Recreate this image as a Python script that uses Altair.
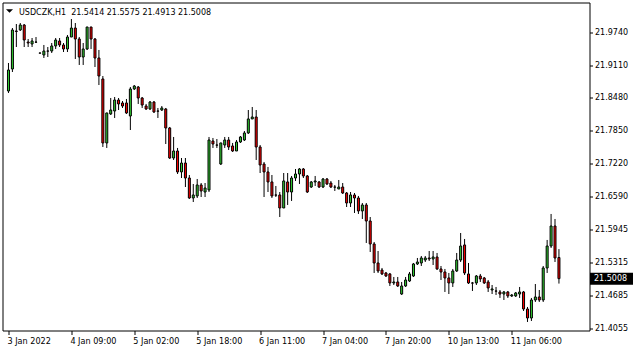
import altair as alt
import pandas as pd

# ---- data (USDCZK, H1) ----
opens = [21.8612, 21.9035, 21.9765, 21.9784, 21.9880, 21.9553, 21.9515, 21.9553, 21.9342, 21.9304,
         21.9380, 21.9380, 21.9477, 21.9573, 21.9496, 21.9419, 21.9649, 21.9822, 21.9611, 21.9265,
         21.9419, 21.9841, 21.9611, 21.9246, 21.8843, 21.7614, 21.8171, 21.8228, 21.8439, 21.8382,
         21.8382, 21.8132, 21.8651, 21.8689, 21.8478, 21.8324, 21.8267, 21.8401, 21.8228, 21.8247,
         21.8267, 21.7902, 21.7325, 21.7460, 21.7057, 21.7229, 21.6941, 21.6557, 21.6596, 21.6807,
         21.6672, 21.6711, 21.7652, 21.7575, 21.7210, 21.7575, 21.7671, 21.7556, 21.7460, 21.7633,
         21.7671, 21.7806, 21.8075, 21.8113, 21.7537, 21.7210, 21.7057, 21.6865, 21.6615, 21.6615,
         21.6365, 21.6865, 21.6672, 21.6941, 21.7018, 21.7114, 21.6980, 21.6768, 21.6865, 21.6865,
         21.6768, 21.6922, 21.6845, 21.6768, 21.6730, 21.6768, 21.6653, 21.6461, 21.6615, 21.6557,
         21.6308, 21.6423, 21.6115, 21.5674, 21.5309, 21.5174, 21.5117, 21.5098, 21.4925, 21.4944,
         21.4713, 21.4867, 21.4963, 21.5059, 21.5290, 21.5309, 21.5366, 21.5405, 21.5386, 21.5424,
         21.5194, 21.5136, 21.5021, 21.4925, 21.5155, 21.5366, 21.5655, 21.5098, 21.4925, 21.4925,
         21.5059, 21.5021, 21.4944, 21.4790, 21.4771, 21.4752, 21.4713, 21.4752, 21.4675, 21.4675,
         21.4713, 21.4752, 21.4425, 21.4252, 21.4598, 21.4656, 21.4598, 21.5213, 21.5635, 21.6019,
         21.5414]
highs = [21.9150, 21.9822, 21.9899, 21.9918, 21.9899, 21.9611, 21.9630, 21.9649, 21.9345, 21.9496,
         21.9457, 21.9534, 21.9630, 21.9630, 21.9534, 21.9688, 21.9995, 21.9918, 21.9649, 21.9534,
         21.9845, 21.9845, 21.9630, 21.9400, 21.8900, 21.8195, 21.8478, 21.8497, 21.8478, 21.8420,
         21.8459, 21.8689, 21.8727, 21.8708, 21.8497, 21.8363, 21.8420, 21.8420, 21.8286, 21.8324,
         21.8286, 21.7921, 21.7729, 21.7518, 21.7325, 21.7325, 21.6999, 21.6826, 21.6922, 21.6845,
         21.6845, 21.7729, 21.7710, 21.7690, 21.7618, 21.7729, 21.7729, 21.7614, 21.7671, 21.7748,
         21.7844, 21.8247, 21.8305, 21.8247, 21.7575, 21.7249, 21.7153, 21.6999, 21.6788, 21.6672,
         21.7037, 21.7037, 21.6980, 21.7114, 21.7133, 21.7133, 21.6999, 21.6884, 21.6980, 21.6884,
         21.6941, 21.6941, 21.6884, 21.6807, 21.6903, 21.6845, 21.6672, 21.6672, 21.6653, 21.6596,
         21.6461, 21.6461, 21.6192, 21.5712, 21.5539, 21.5213, 21.5136, 21.5117, 21.5040, 21.5040,
         21.4944, 21.5040, 21.5136, 21.5309, 21.5405, 21.5443, 21.5443, 21.5539, 21.5539, 21.5501,
         21.5251, 21.5194, 21.5117, 21.5194, 21.5501, 21.5885, 21.5770, 21.5309, 21.4944, 21.5078,
         21.5098, 21.5040, 21.4982, 21.4886, 21.4848, 21.4790, 21.4771, 21.4771, 21.4713, 21.4752,
         21.4848, 21.4771, 21.4464, 21.4637, 21.4905, 21.4790, 21.5251, 21.5751, 21.6250, 21.6154,
         21.5575]
lows = [21.8574, 21.8977, 21.9457, 21.9765, 21.9457, 21.9457, 21.9457, 21.9534, 21.9338, 21.9246,
        21.9265, 21.9342, 21.9419, 21.9457, 21.9361, 21.9361, 21.9649, 21.9227, 21.9112, 21.9112,
        21.9400, 21.9419, 21.9073, 21.8727, 21.7537, 21.7518, 21.8151, 21.8094, 21.8247, 21.8286,
        21.8171, 21.7863, 21.8631, 21.8363, 21.8286, 21.8247, 21.8247, 21.8190, 21.8094, 21.8228,
        21.7594, 21.7306, 21.7287, 21.7018, 21.6941, 21.6768, 21.6538, 21.6480, 21.6557, 21.6576,
        21.6576, 21.6672, 21.7518, 21.7518, 21.7191, 21.7518, 21.7479, 21.7441, 21.7460, 21.7614,
        21.7652, 21.7786, 21.8075, 21.7287, 21.7037, 21.6576, 21.6672, 21.6557, 21.6576, 21.6192,
        21.6365, 21.6423, 21.6500, 21.6884, 21.6826, 21.6941, 21.6653, 21.6749, 21.6788, 21.6749,
        21.6749, 21.6807, 21.6749, 21.6692, 21.6730, 21.6634, 21.6384, 21.6384, 21.6269, 21.6250,
        21.6154, 21.5693, 21.5520, 21.5117, 21.5117, 21.5078, 21.5040, 21.4867, 21.4886, 21.4848,
        21.4694, 21.4848, 21.4944, 21.5040, 21.5270, 21.5251, 21.5328, 21.5347, 21.5270, 21.5174,
        21.4982, 21.4752, 21.4713, 21.4848, 21.5136, 21.5328, 21.5078, 21.4905, 21.4771, 21.4886,
        21.4944, 21.4905, 21.4752, 21.4713, 21.4694, 21.4637, 21.4598, 21.4637, 21.4656, 21.4656,
        21.4637, 21.4387, 21.4176, 21.4195, 21.4560, 21.4560, 21.4560, 21.5117, 21.5597, 21.5328,
        21.4913]
closes = [21.9016, 21.9784, 21.9755, 21.9880, 21.9592, 21.9534, 21.9573, 21.9550, 21.9340, 21.9380,
          21.9378, 21.9477, 21.9592, 21.9496, 21.9419, 21.9649, 21.9822, 21.9611, 21.9265, 21.9419,
          21.9841, 21.9611, 21.9246, 21.8900, 21.7614, 21.8190, 21.8247, 21.8439, 21.8363, 21.8324,
          21.8190, 21.8651, 21.8708, 21.8478, 21.8343, 21.8267, 21.8401, 21.8209, 21.8225, 21.8286,
          21.7902, 21.7325, 21.7460, 21.7057, 21.7229, 21.6941, 21.6557, 21.6615, 21.6807, 21.6692,
          21.6749, 21.7671, 21.7594, 21.7572, 21.7614, 21.7671, 21.7537, 21.7460, 21.7633, 21.7729,
          21.7806, 21.8075, 21.8113, 21.7537, 21.7191, 21.7057, 21.6865, 21.6596, 21.6612, 21.6365,
          21.6884, 21.6672, 21.6941, 21.7018, 21.7114, 21.6980, 21.6672, 21.6865, 21.6884, 21.6768,
          21.6922, 21.6826, 21.6768, 21.6765, 21.6768, 21.6653, 21.6461, 21.6615, 21.6557, 21.6308,
          21.6423, 21.6115, 21.5674, 21.5309, 21.5155, 21.5098, 21.5059, 21.4925, 21.4944, 21.4867,
          21.4867, 21.4982, 21.5098, 21.5290, 21.5328, 21.5405, 21.5405, 21.5386, 21.5424, 21.5194,
          21.5136, 21.5021, 21.4925, 21.5155, 21.5366, 21.5635, 21.5117, 21.4925, 21.4922, 21.5059,
          21.5002, 21.4925, 21.4829, 21.4810, 21.4768, 21.4713, 21.4752, 21.4675, 21.4694, 21.4733,
          21.4752, 21.4425, 21.4252, 21.4598, 21.4656, 21.4598, 21.5213, 21.5635, 21.6019, 21.5405,
          21.5008]

x_tick_bars = [0, 16, 32, 48, 64, 80, 96, 112, 128]
x_tick_labels = ["3 Jan 2022", "4 Jan 09:00", "5 Jan 02:00", "5 Jan 18:00", "6 Jan 11:00",
                 "7 Jan 04:00", "7 Jan 20:00", "10 Jan 13:00", "11 Jan 06:00"]
y_ticks = [21.9740, 21.9110, 21.8480, 21.7850, 21.7220, 21.6590, 21.5945, 21.5315, 21.4685, 21.4055]
symbol = "USDCZK,H1"

GREEN = "#32CD32"
RED = "#FF0000"
FONT = "DejaVu Sans"

df = pd.DataFrame({
    "bar": list(range(len(opens))),
    "open": opens, "high": highs, "low": lows, "close": closes,
})
df["dir"] = ["up" if c >= o else "down" for o, c in zip(opens, closes)]

x_scale = alt.Scale(domain=[-0.25, 146.5], nice=False, zero=False)
y_scale = alt.Scale(domain=[21.4012, 22.0312], nice=False, zero=False)

label_expr = ""
for b, t in zip(x_tick_bars, x_tick_labels):
    label_expr += f"datum.value == {b} ? '{t}' : "
label_expr += "''"

x_axis = alt.Axis(values=x_tick_bars, labelExpr=label_expr, orient="bottom", grid=False,
                  domain=False, tickSize=4, tickColor="black", tickWidth=1,
                  labelAlign="left", labelBaseline="top", labelPadding=2.5, labelOffset=-1.5,
                  labelColor="black", labelFont=FONT, labelFontSize=8.1,
                  labelOverlap=False, labelFlush=False, title=None)
y_axis = alt.Axis(values=y_ticks, format=".4f", orient="right", grid=False, domain=False,
                  tickSize=3, tickColor="black", tickWidth=1,
                  labelAlign="left", labelBaseline="middle", labelPadding=2,
                  labelColor="black", labelFont=FONT, labelFontSize=8,
                  labelOverlap=False, labelFlush=False, title=None)

base = alt.Chart(df)
wicks = base.mark_rule(color="black", strokeWidth=1).encode(
    x=alt.X("bar:Q", scale=x_scale, axis=x_axis),
    y=alt.Y("low:Q", scale=y_scale, axis=y_axis),
    y2="high:Q",
)
bodies = base.mark_bar(size=2, stroke="black", strokeWidth=1).encode(
    x=alt.X("bar:Q", scale=x_scale, axis=x_axis),
    y=alt.Y("open:Q", scale=y_scale, axis=y_axis),
    y2="close:Q",
    color=alt.Color("dir:N", scale=alt.Scale(domain=["up", "down"], range=[GREEN, RED]), legend=None),
)

header_text = f"{symbol}\u00a0\u00a0{opens[-1]:.4f} {highs[-1]:.4f} {lows[-1]:.4f} {closes[-1]:.4f}"
header = alt.Chart(pd.DataFrame({"t": [header_text]})).mark_text(
    align="left", baseline="alphabetic", font=FONT, fontSize=8, color="black"
).encode(x=alt.value(16.5), y=alt.value(12.5), text="t:N")

tri = alt.Chart(pd.DataFrame({"a": [0]})).mark_point(
    shape="M-1,-0.5L1,-0.5L0,0.5Z", filled=True, color="black", size=49, opacity=1, strokeWidth=0
).encode(x=alt.value(7), y=alt.value(8.5))

last = pd.DataFrame({"close": [closes[-1]], "label": [f"{closes[-1]:.4f}"]})
box = alt.Chart(last).mark_point(
    shape="M-1,-0.279L1,-0.279L1,0.279L-1,0.279Z", filled=True, color="black",
    size=1849, opacity=1, strokeWidth=0
).encode(x=alt.value(609), y=alt.Y("close:Q", scale=y_scale, axis=y_axis))
ptxt = alt.Chart(last).mark_text(
    align="left", baseline="middle", color="white", font=FONT, fontSize=8
).encode(x=alt.value(591.5), y=alt.Y("close:Q", scale=y_scale, axis=y_axis), text="label:N")

chart = alt.layer(wicks, bodies, header, tri, box, ptxt).properties(
    width=587, height=328,
    padding={"left": 2.5, "top": 2.5, "right": 45.5, "bottom": 21.5},
    autosize="none",
    background="white",
).configure_view(stroke="black", strokeWidth=1).configure_axis(labelOverlap=False)

chart.save("out.html", embed_options={"renderer": "svg", "actions": False})
